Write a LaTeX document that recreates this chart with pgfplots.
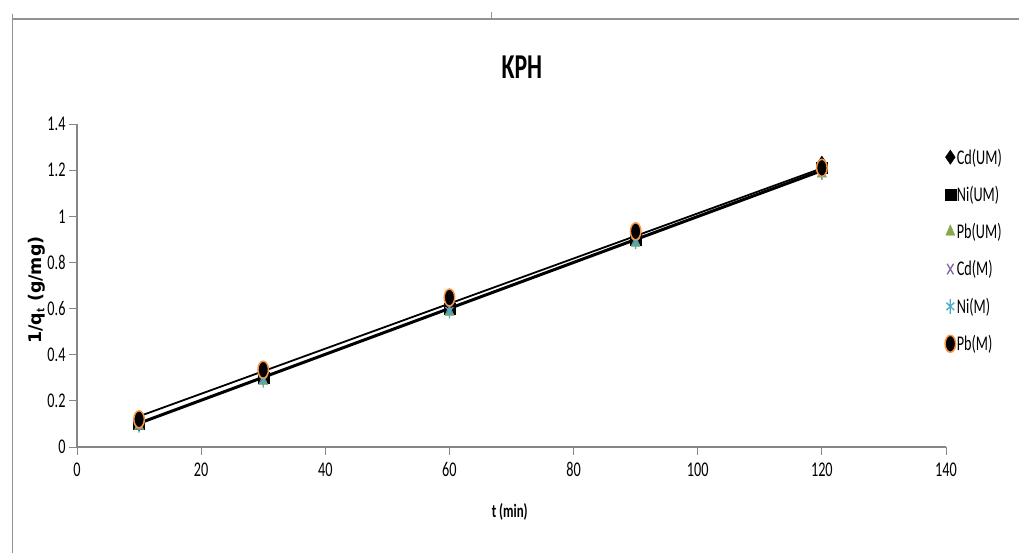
\documentclass[border=0pt]{standalone}
\usepackage{pgfplots}
\pgfplotsset{compat=1.18}
\usepackage{fontspec}
\setmainfont{Carlito}
\newfontfamily\narrow{Carlito}[FakeStretch=0.68]
\newfontfamily\ylab{DejaVu Sans}
\definecolor{axgray}{HTML}{868686}
\definecolor{umgreen}{HTML}{86A84A}
\definecolor{mpurple}{HTML}{8064A2}
\definecolor{mteal}{HTML}{4BACC6}
\definecolor{morange}{HTML}{F79646}
\begin{document}
\begin{tikzpicture}
\path[use as bounding box] (0bp,0bp) rectangle (1019bp,553bp);
\draw[axgray!90, line width=2bp] (12bp,534bp) -- (1019bp,534bp);
\draw[axgray!90, line width=0.8bp] (12bp,534bp) -- (12bp,0bp);
\draw[axgray!90, line width=0.8bp] (12bp,534bp) -- (12bp,539bp);
\draw[axgray!90, line width=0.8bp] (491bp,534bp) -- (491bp,541bp);
\begin{axis}[
  at={(77bp,106bp)}, anchor=south west,
  width=869bp, height=323bp, scale only axis,
  xmin=0, xmax=140, ymin=0, ymax=1.4,
  xtick={0,20,...,140}, ytick={0,0.2,0.4,0.6,0.8,1,1.2,1.4},
  axis x line=bottom, axis y line=left,
  axis line style={axgray, line width=1.5bp, -},
  tick style={axgray, line width=0.8bp},
  tick align=outside, major tick length=8bp,
  /pgf/number format/assume math mode=true,
  /pgf/number format/fixed,
  ticklabel style={font=\narrow\fontsize{21}{25}\selectfont},
  x tick label style={yshift=-4bp},
  title={\narrow\bfseries\fontsize{35}{40}\selectfont KPH},
  title style={anchor=base, at={(0.512,1)}, yshift=40bp},
  xlabel={\narrow\bfseries\fontsize{19}{22}\selectfont t (min)},
  xlabel style={anchor=base, at={(0.498,0)}, yshift=-70bp},
  ylabel={\ylab\bfseries\fontsize{17.5}{20}\selectfont 1/q$_\mathbf{t}$ (g/mg)},
  ylabel style={at={(-0.046,0.486)}, anchor=center, rotate=0},
  legend image code/.code={\draw[#1] plot coordinates {(0bp,0bp)};},
  legend style={at={(0.995,0.93)}, anchor=north west, draw=none, fill=none,
    font=\narrow\fontsize{21}{25}\selectfont, row sep=20.5bp,
    nodes={inner xsep=1bp, inner ysep=0bp}},
  legend cell align=left,
  clip=false,
]
% trendlines
\addplot[black, line width=1.8bp, forget plot] coordinates {(10,0.133) (120,1.208)};
\addplot[black, line width=3bp, forget plot] coordinates {(10,0.103) (120,1.198)};
% markers
\addplot[only marks, mark=diamond*, mark size=6.5bp, mark options={black, fill=black, yscale=1.1}] coordinates {(10,0.10) (30,0.30) (60,0.61) (90,0.91) (120,1.23)};
\addlegendentry{Cd(UM)}
\addplot[only marks, mark=square*, mark size=5.5bp, mark options={black, fill=black}] coordinates {(10,0.10) (30,0.30) (60,0.60) (90,0.90) (120,1.21)};
\addlegendentry{Ni(UM)}
\addplot[only marks, mark=triangle*, mark size=7bp, mark options={umgreen, fill=umgreen, xscale=0.75}] coordinates {(10,0.09) (30,0.285) (60,0.585) (90,0.885) (120,1.185)};
\addlegendentry{Pb(UM)}
\addplot[only marks, mark=x, mark size=7.5bp, mark options={mpurple, line width=1.3bp, xscale=0.6}] coordinates {(10,0.10) (30,0.30) (60,0.60) (90,0.90) (120,1.20)};
\addlegendentry{Cd(M)}
\addplot[only marks, mark=asterisk, mark size=7.5bp, mark options={mteal, line width=1.3bp, xscale=0.6}] coordinates {(10,0.095) (30,0.29) (60,0.59) (90,0.89) (120,1.19)};
\addlegendentry{Ni(M)}
\addplot[only marks, mark=*, mark size=8.5bp, mark options={black, fill=black, draw=morange, line width=1.5bp, xscale=0.62}] coordinates {(10,0.12) (30,0.335) (60,0.648) (90,0.935) (120,1.21)};
\addlegendentry{Pb(M)}
\end{axis}
\end{tikzpicture}
\end{document}
